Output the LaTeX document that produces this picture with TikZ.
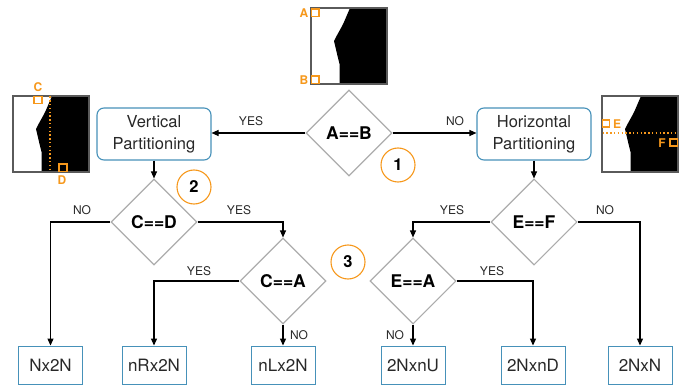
\documentclass[tikz,border=0pt]{standalone}
\usepackage{fontspec}
\setmainfont{TeX Gyre Heros}
\usetikzlibrary{shapes.geometric,arrows.meta}
\definecolor{org}{RGB}{246,152,28}
\definecolor{bx}{RGB}{70,145,185}
\definecolor{dg}{RGB}{172,172,172}
\definecolor{fr}{RGB}{90,90,90}
\definecolor{tx}{RGB}{40,40,40}
\tikzset{
  dec/.style={diamond,shape aspect=1,draw=dg,line width=1.1pt,minimum size=86pt,inner sep=0pt,font=\fontsize{17.5}{20}\selectfont\bfseries,text=black},
  part/.style={draw=bx,line width=1.1pt,rounded corners=7pt,minimum width=114pt,minimum height=52pt,align=center,font=\fontsize{16.5}{22}\selectfont,text=tx},
  leaf/.style={draw=bx,line width=0.9pt,minimum width=64pt,minimum height=38pt,font=\fontsize{17}{20}\selectfont,text=tx},
  num/.style={circle,draw=org,line width=1.1pt,minimum size=34pt,inner sep=0pt,font=\fontsize{16.5}{18}\selectfont\bfseries},
  lbl/.style={font=\fontsize{12}{14}\selectfont,text=tx,inner sep=0pt},
  conn/.style={line width=1.1pt,-{Triangle[width=6pt,length=7pt]}},
  sq/.style={draw=org,line width=1.1pt},
  imlbl/.style={font=\fontsize{12}{14}\selectfont\bfseries,text=org,inner sep=0pt},
  dotl/.style={draw=org,line width=1.2pt,dash pattern=on 1.4pt off 2.4pt},
  frame/.style={draw=fr,line width=1.2pt}
}
\newcommand{\blkshape}{%
  \fill[black] (39,0) -- (76,0) -- (76,76) -- (28.5,76) -- (28.5,56) -- (27,50) -- (23,33) -- (25,29) -- (30,20) -- (33,14) -- cycle;}
\begin{document}
\begin{tikzpicture}[x=1pt,y=-1pt]
\useasboundingbox (0,0) rectangle (691,385);
% images
\begin{scope}[shift={(311,8)}]
  \blkshape
  \draw[frame] (0,0) rectangle (76,76);
  \draw[sq] (0.5,1) rectangle (8,8.5);
  \draw[sq] (0.5,68) rectangle (8,75.5);
\end{scope}
\node[imlbl] (la) at (304,13) {A};
\node[imlbl] (lb) at (304,80) {B};
\begin{scope}[shift={(13,96)}]
  \blkshape
  \draw[frame] (0,0) rectangle (76,76);
  \draw[dotl] (37,0.5) -- (37,75.5);
  \draw[sq] (21,0.5) rectangle (29,7.5);
  \draw[sq] (46,68) rectangle (54,75.5);
\end{scope}
\node[imlbl] (lc) at (38,87) {C};
\node[imlbl] (ld) at (62,180) {D};
\begin{scope}[shift={(602,96)}]
  \blkshape
  \draw[frame] (0,0) rectangle (76,76);
  \draw[dotl] (0.5,37) -- (75.5,37);
  \draw[sq] (0.5,24) rectangle (7.5,31);
  \draw[sq] (68,43) rectangle (75.5,50);
\end{scope}
\node[imlbl] (le) at (617,124) {E};
\node[imlbl] (lf) at (662,143) {F};
% nodes
\node[dec] (AB) at (349,133) {A==B};
\node[part] (VP) at (154,134) {Vertical\\Partitioning};
\node[part] (HP) at (534,134) {Horizontal\\Partitioning};
\node[dec] (CD) at (154,222) {C==D};
\node[dec] (CA) at (283,281) {C==A};
\node[dec] (EF) at (534,222) {E==F};
\node[dec] (EA) at (413,281) {E==A};
\node[num] (n1) at (398,165) {1};
\node[num] (n2) at (194,187) {2};
\node[num] (n3) at (348,262) {3};
\node[leaf] (l1) at (50.5,365) {Nx2N};
\node[leaf] (l2) at (154,365) {nRx2N};
\node[leaf] (l3) at (283,365) {nLx2N};
\node[leaf] (l4) at (413,365) {2NxnU};
\node[leaf] (l5) at (533,365) {2NxnD};
\node[leaf] (l6) at (640,365) {2NxN};
% connectors
\draw[conn] (AB.west) -- (VP.east |- AB.west);
\draw[conn] (AB.east) -- (HP.west |- AB.east);
\draw[conn] (VP.south) -- (CD.north);
\draw[conn] (HP.south) -- (EF.north);
\draw[conn] (CD.west) -| (l1.north);
\draw[conn] (CD.east) -| (CA.north);
\draw[conn] (CA.west) -| (l2.north);
\draw[conn] (CA.south) -- (l3.north);
\draw[conn] (EF.west) -| (EA.north);
\draw[conn] (EF.east) -| (l6.north);
\draw[conn] (EA.east) -| (l5.north);
\draw[conn] (EA.south) -- (l4.north);
% labels
\node[lbl] (t1) at (251,121) {YES};
\node[lbl] (t2) at (455,121) {NO};
\node[lbl] (t3) at (82,210) {NO};
\node[lbl] (t4) at (239,210) {YES};
\node[lbl] (t5) at (199,271) {YES};
\node[lbl] (t6) at (299,335) {NO};
\node[lbl] (t7) at (452,210) {YES};
\node[lbl] (t8) at (605,210) {NO};
\node[lbl] (t9) at (492,271) {YES};
\node[lbl] (t10) at (395,335) {NO};
\end{tikzpicture}
\end{document}
